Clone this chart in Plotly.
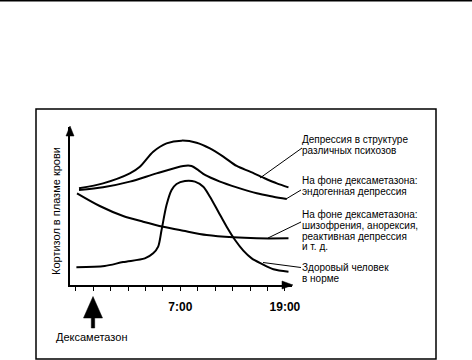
import plotly.graph_objects as go

# ---------------- data (hours from start of record; cortisol level, arbitrary units) ----------------
psych_x = [0.38, 3.14, 6.21, 7.36, 8.89, 10.42, 12.15, 13.87, 15.40, 16.93, 18.47, 20.0, 21.53, 23.07, 24.41]
psych_y = [6.11, 6.42, 7.05, 7.47, 8.42, 8.95, 9.12, 8.99, 8.63, 8.11, 7.52, 7.16, 6.78, 6.42, 6.17]

endo_x = [0.38, 3.14, 6.21, 9.27, 12.34, 13.29, 14.06, 14.83, 16.55, 18.47, 20.77, 22.68, 24.21]
endo_y = [6.00, 6.17, 6.53, 7.05, 7.52, 7.52, 7.26, 6.95, 6.53, 6.17, 5.79, 5.58, 5.43]

schiz_x = [0.15, 2.76, 5.44, 7.74, 10.04, 12.34, 15.02, 18.08, 20.77, 24.41]
schiz_y = [5.79, 4.99, 4.36, 4.00, 3.68, 3.43, 3.16, 3.01, 2.95, 2.95]

healthy_x = [0.08, 3.33, 5.44, 7.93, 8.89, 9.46, 9.85, 10.42, 11.0, 11.57, 12.53, 13.68, 14.64,
             15.40, 16.36, 17.32, 18.28, 19.23, 20.19, 21.34, 22.68, 24.41]
healthy_y = [1.12, 1.20, 1.45, 1.68, 2.00, 2.42, 3.47, 5.05, 6.00, 6.38, 6.57, 6.53, 6.21,
             5.58, 4.63, 3.68, 2.84, 2.17, 1.68, 1.33, 0.99, 0.84]

tick_vals = [0, 2, 4, 6, 8, 10, 12, 14, 16, 18, 20, 22, 24]
tick_text = ["", "", "", "", "", "", "7:00", "", "", "", "", "", "19:00"]

labels = [
    ["Депрессия в структуре", "различных психозов"],
    ["На фоне дексаметазона:", "эндогенная депрессия"],
    ["На фоне дексаметазона:", "шизофрения, анорексия,", "реактивная депрессия", "и т. д."],
    ["Здоровый человек", "в норме"],
]
y_title = "Кортизол в плазме крови"
drug_label = "Дексаметазон"

# ---------------- layout geometry ----------------
W, H = 472, 360
L, R, T, B = 70, 292, 127, 285   # plot area in pixels


def px(x):
    return (x - L) / (R - L)


def py(y):
    return (B - y) / (B - T)


FONT = "Liberation Sans, Arial, sans-serif"

fig = go.Figure()
for xs, ys in [(psych_x, psych_y), (endo_x, endo_y), (schiz_x, schiz_y), (healthy_x, healthy_y)]:
    fig.add_trace(go.Scatter(x=xs, y=ys, mode="lines",
                             line=dict(color="black", width=2, shape="spline", smoothing=0.8),
                             hoverinfo="skip", showlegend=False))

shapes = []
# top rule and frame
shapes.append(dict(type="line", xref="paper", yref="paper", x0=px(0), x1=px(W), y0=py(0.8), y1=py(0.8),
                   line=dict(color="black", width=1.5)))
shapes.append(dict(type="rect", xref="paper", yref="paper", x0=px(36), x1=px(436), y0=py(109), y1=py(359),
                   line=dict(color="black", width=1.5)))
# axis arrowheads
shapes.append(dict(type="path", xref="paper", yref="paper",
                   path=f"M {px(70)},{py(126)} L {px(66)},{py(136)} L {px(74)},{py(136)} Z",
                   fillcolor="black", line=dict(color="black", width=0.5)))
shapes.append(dict(type="path", xref="paper", yref="paper",
                   path=f"M {px(293)},{py(285)} L {px(282)},{py(281)} L {px(282)},{py(289)} Z",
                   fillcolor="black", line=dict(color="black", width=0.5)))
# dexamethasone arrow
cx = 93
shapes.append(dict(type="path", xref="paper", yref="paper",
                   path=(f"M {px(cx)},{py(296.5)} L {px(cx-9.5)},{py(318)} L {px(cx-1.7)},{py(318)} "
                         f"L {px(cx-1.7)},{py(328)} L {px(cx+1.7)},{py(328)} L {px(cx+1.7)},{py(318)} "
                         f"L {px(cx+9.5)},{py(318)} Z"),
                   fillcolor="black", line=dict(color="black", width=0.5)))
# leader lines
for (x0, y0, x1, y1) in [(260, 178, 302, 148), (286, 199, 301, 190), (268, 238, 301, 222), (263, 262.5, 301, 267.5)]:
    shapes.append(dict(type="line", xref="paper", yref="paper", x0=px(x0), y0=py(y0), x1=px(x1), y1=py(y1),
                       line=dict(color="black", width=1)))

annotations = []
label_ys = [[139.5, 150.5], [180.5, 191], [214, 225.5, 236.5, 246.5], [267, 278]]
for lines, ys in zip(labels, label_ys):
    for t, yy in zip(lines, ys):
        annotations.append(dict(xref="paper", yref="paper", x=px(301), y=py(yy), text=t, showarrow=False,
                                xanchor="left", yanchor="middle", borderpad=0,
                                font=dict(family=FONT, size=10, color="black")))
annotations.append(dict(xref="paper", yref="paper", x=px(56), y=py(211), text=y_title, textangle=-90,
                        showarrow=False, xanchor="center", yanchor="middle",
                        font=dict(family=FONT, size=11, color="black")))
annotations.append(dict(xref="paper", yref="paper", x=px(91), y=py(337), text=drug_label, showarrow=False,
                        xanchor="center", yanchor="middle", font=dict(family=FONT, size=11, color="black")))

fig.update_layout(
    width=W, height=H,
    margin=dict(l=L, r=W - R, t=T, b=H - B, pad=0),
    paper_bgcolor="white", plot_bgcolor="white",
    shapes=shapes, annotations=annotations,
    xaxis=dict(range=[(L - 75.7) / 8.717, (R - 75.7) / 8.717], showgrid=False, zeroline=False,
               showline=True, linecolor="black", linewidth=2,
               tickmode="array", tickvals=tick_vals, ticktext=tick_text,
               ticks="outside", ticklen=4, tickwidth=1, tickcolor="black", ticklabelstandoff=6,
               tickfont=dict(family=FONT, size=12, color="black", weight="bold"), fixedrange=True),
    yaxis=dict(range=[0, (B - T) / 15.83], showgrid=False, zeroline=False,
               showline=True, linecolor="black", linewidth=2, showticklabels=False, ticks="",
               fixedrange=True),
    showlegend=False,
)

fig.write_html("out.html", config={"displayModeBar": False},
               post_script="document.body.style.margin='0';document.body.style.overflow='hidden';")
